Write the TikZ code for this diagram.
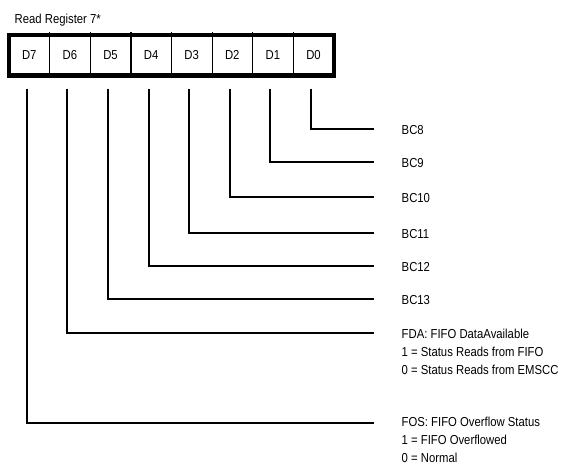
\documentclass[tikz,border=0pt]{standalone}
\usepackage{fontspec}
\setmainfont{Liberation Sans}[FakeStretch=0.87]
\begin{document}
\begin{tikzpicture}[x=1pt,y=-1pt,
  every node/.style={font=\fontsize{13}{15}\selectfont, inner sep=0pt},
  cell/.style={minimum width=40.6pt, minimum height=40.5pt},
  lbl/.style={anchor=base west},
  conn/.style={line width=2pt},
  divider/.style={line width=1.3pt}]
\useasboundingbox (0,0) rectangle (572,466);
\node[anchor=base west] (title) at (14.5,23.8) {Read Register 7*};
\foreach \n [count=\i from 0] in {7,6,5,4,3,2,1,0}
  \node[cell] (d\n) at (29.3+40.6*\i,55.25) {D\n};
\foreach \n in {7,6,5,4,3,2,1}
  \draw[divider] ([yshift=3pt]d\n.north east) -- (d\n.south east);
\draw[line width=4.5pt] (d7.north west) rectangle (d0.south east);
% labels
\node[lbl] (bc8)  at (401.5,134.0) {BC8};
\node[lbl] (bc9)  at (401.5,167.0) {BC9};
\node[lbl] (bc10) at (401.5,202.0) {BC10};
\node[lbl] (bc11) at (401.5,238.0) {BC11};
\node[lbl] (bc12) at (401.5,271.0) {BC12};
\node[lbl] (bc13) at (401.5,304.0) {BC13};
\node[lbl] (fda)  at (401.5,338.0) {FDA: FIFO DataAvailable};
\node[lbl] (fda1) at (401.5,356.3) {1 = Status Reads from FIFO};
\node[lbl] (fda0) at (401.5,374.6) {0 = Status Reads from EMSCC};
\node[lbl] (fos)  at (401.5,426.2) {FOS: FIFO Overflow Status};
\node[lbl] (fos1) at (401.5,444.5) {1 = FIFO Overflowed};
\node[lbl] (fos0) at (401.5,462.8) {0 = Normal};
% connector ends
\coordinate (e0) at (374,129.3);
\coordinate (e1) at (374,162.3);
\coordinate (e2) at (374,197.3);
\coordinate (e3) at (374,233.3);
\coordinate (e4) at (374,266.3);
\coordinate (e5) at (374,299.3);
\coordinate (e6) at (374,333.3);
\coordinate (e7) at (374,422.5);
\foreach \n in {0,...,7}
  \draw[conn] ([xshift=-2.5pt,yshift=-12.8pt]d\n.south) |- (e\n);
\end{tikzpicture}
\end{document}
